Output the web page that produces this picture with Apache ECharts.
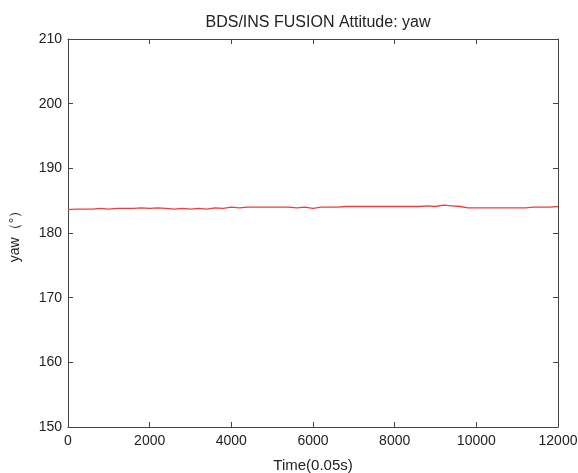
<!DOCTYPE html>
<html><head><meta charset="utf-8">
<script src="https://cdn.jsdelivr.net/npm/echarts@6/dist/echarts.min.js"></script>
<style>html,body{margin:0;padding:0;background:#fff}#c{width:578px;height:473px}</style>
</head><body><div id="c"></div>
<script>
const times = [];
for (let t = 0; t <= 12000; t += 200) times.push(t);
const yaw = [
 183.6,183.7,183.7,183.7,183.8,183.7,183.8,183.8,183.8,183.9,183.8,
 183.9,183.8,183.7,183.8,183.7,183.8,183.7,183.9,183.8,184.0,
 183.9,184.0,184.0,184.0,184.0,184.0,184.0,183.9,184.0,183.8,
 184.0,184.0,184.0,184.1,184.1,184.1,184.1,184.1,184.1,184.1,
 184.1,184.1,184.1,184.2,184.1,184.3,184.2,184.1,183.9,183.9,
 183.9,183.9,183.9,183.9,183.9,183.9,184.0,184.0,184.0,184.1
];
const xTicks = [0,2000,4000,6000,8000,10000,12000];
const yTicks = [150,160,170,180,190,200,210];
const font = 'Liberation Sans, Arial, sans-serif';
function line(){ return {show:true, onZero:false, lineStyle:{color:'#444', width:1}}; }
function tick(){ return {show:true, inside:true, length:5, lineStyle:{color:'#444'}}; }
const chart = echarts.init(document.getElementById('c'));
chart.setOption({
  animation:false,
  title:{text:'BDS/INS FUSION Attitude: yaw', left:313, textAlign:'center', top:10,
    textStyle:{fontFamily:font, fontSize:16, fontWeight:'normal', color:'#222'}},
  grid:{left:68, right:20, top:39, bottom:46, outerBoundsMode:'none', containLabel:false},
  xAxis:[{type:'value', min:xTicks[0], max:xTicks[xTicks.length-1], interval:2000,
    axisLine:line(), axisTick:tick(),
    axisLabel:{fontFamily:font, fontSize:14, color:'#222', margin:7, formatter:v=>String(v)},
    splitLine:{show:false},
    name:'Time(0.05s)', nameLocation:'middle', nameGap:31,
    nameTextStyle:{fontFamily:font, fontSize:15, color:'#222'}},
   {type:'value', position:'top', min:xTicks[0], max:xTicks[xTicks.length-1], interval:2000,
    axisLine:line(), axisTick:tick(),
    axisLabel:{show:false}, splitLine:{show:false}}],
  yAxis:[{type:'value', min:yTicks[0], max:yTicks[yTicks.length-1], interval:10,
    axisLine:line(), axisTick:tick(),
    axisLabel:{fontFamily:font, fontSize:14, color:'#222', margin:6},
    splitLine:{show:false},
    name:'yaw（°）', nameLocation:'middle', nameGap:46, nameRotate:90,
    nameTextStyle:{fontFamily:font, fontSize:14, color:'#222'}},
   {type:'value', position:'right', min:yTicks[0], max:yTicks[yTicks.length-1], interval:10,
    axisLine:line(), axisTick:tick(),
    axisLabel:{show:false}, splitLine:{show:false}}],
  series:[{type:'line', data:times.map((t,i)=>[t,yaw[i]]), showSymbol:false,
    lineStyle:{color:'#f03c3c', width:1.3}}]
});
</script></body></html>
